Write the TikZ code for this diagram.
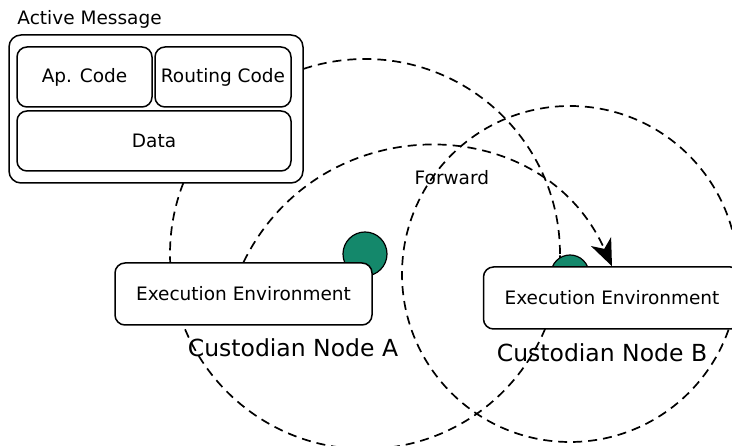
\documentclass[tikz,border=0pt]{standalone}
\usepackage{fontspec}
\setmainfont{DejaVu Sans}
\usetikzlibrary{arrows.meta}
\pgfdeclarelayer{background}
\pgfsetlayers{background,main}
\definecolor{custgreen}{RGB}{20,136,107}

\tikzset{
	box/.style={draw, rounded corners=10pt, line width=1.5pt, fill=white, inner sep=0pt,
		font=\fontsize{18.5}{22}\selectfont},
	radioline/.style={line width=1.7pt, dash pattern=on 9pt off 6pt},
	agent/.style={circle, draw, line width=1.2pt, fill=custgreen, inner sep=0pt},
	caption/.style={inner sep=0pt, font=\fontsize{23.5}{28}\selectfont},
	labeltext/.style={inner sep=0pt, font=\fontsize{18.5}{22}\selectfont}
}

\begin{document}
\begin{tikzpicture}[x=1pt,y=1pt]
	\useasboundingbox (0,0) rectangle (732,446);

	% custodian nodes
	\node[agent, minimum size=44pt] (dotA) at (365,192) {};
	\node[agent, minimum size=38pt] (dotB) at (570,172) {};

	% active message
	\node[box, rounded corners=12pt, minimum width=294pt, minimum height=148pt] (amsg) at (156,337) {};
	\node[labeltext, anchor=base west] (amtitle) at ([shift={(9pt,10pt)}]amsg.north west) {Active Message};
	\node[box, minimum width=135pt, minimum height=60pt] (apcode) at (84.5,369) {Ap. Code};
	\node[box, minimum width=136pt, minimum height=60pt] (rtcode) at (223,369) {Routing Code};
	\node[box, minimum width=274pt, minimum height=60pt] (data) at (154,305) {Data};

	% execution environments
	\node[box, minimum width=257pt, minimum height=62pt] (eeA) at (243.5,152) {Execution Environment};
	\node[box, minimum width=257pt, minimum height=62pt] (eeB) at (612,148) {Execution Environment};
	\node[caption, anchor=base] (custA) at ([shift={(49.5pt,-31pt)}]eeA.south) {Custodian Node A};
	\node[caption, anchor=base] (custB) at ([shift={(-10pt,-32pt)}]eeB.south) {Custodian Node B};

	\draw[radioline, -{Stealth[length=27pt, width=22pt, inset=8pt]}] (eeA.north) to[out=64, in=114, looseness=1.2]
		node[labeltext, pos=0.55, below=22pt] (fwd) {Forward} (eeB.north);

\begin{pgfonlayer}{background}
	\draw[radioline] (dotA.center) circle[radius=195pt];
	\draw[radioline] (dotB.center) circle[radius=168pt];
\end{pgfonlayer}

\end{tikzpicture}
\end{document}
